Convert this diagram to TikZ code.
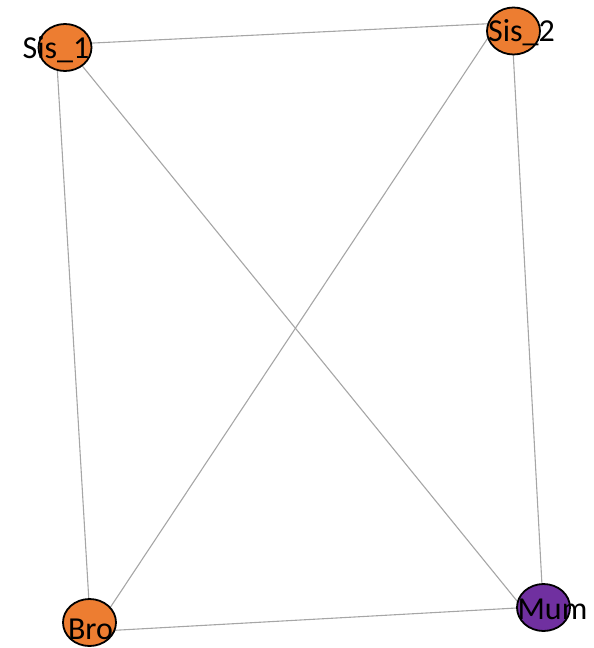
\documentclass[tikz,border=0pt]{standalone}
\usepackage{fontspec}
\setmainfont{Carlito}
\usetikzlibrary{shapes.geometric,backgrounds,calc}
\definecolor{famorange}{HTML}{ED7D31}
\definecolor{fampurple}{HTML}{7030A0}
\definecolor{edgegray}{HTML}{A6A6A6}
\begin{document}
\begin{tikzpicture}[x=1pt,y=-1pt,
  v/.style={ellipse,draw=black,line width=1.8pt,minimum width=53pt,minimum height=47pt,inner sep=0pt},
  lbl/.style={font=\fontsize{32}{32}\selectfont,text=black,inner sep=0pt},
  e/.style={draw=edgegray,line width=1.1pt}]
\useasboundingbox (0,0) rectangle (594,648);
\node[v,fill=famorange,label={[lbl,xshift=-9pt,yshift=-2pt]center:Sis\_1}] (sis1) at (65,47.5) {};
\node[v,fill=famorange,label={[lbl,xshift=8pt,yshift=-2pt]center:Sis\_2}] (sis2) at (513.5,31) {};
\node[v,fill=famorange,label={[lbl,xshift=1pt,yshift=-7pt]center:Bro}] (bro) at (89.5,622.5) {};
\node[v,fill=fampurple,label={[lbl,xshift=9pt,yshift=-2pt]center:Mum}] (mum) at (543.5,607.5) {};
\begin{scope}[on background layer]
\draw[e] ($(sis1)+(0,-3.1)$)--($(sis2)+(0,-8.5)$);
\draw[e] ($(sis1)+(-9,0)$)--($(bro)+(0.7,0)$);
\draw[e] ($(sis1)+(2.3,0)$)--($(mum)+(-21.2,0)$);
\draw[e] ($(sis2)+(-21,0)$)--($(bro)+(10.8,0)$);
\draw[e] ($(sis2)+(-1.5,0)$)--($(mum)+(-0.3,0)$);
\draw[e] ($(bro)+(0,9.2)$)--($(mum)+(0,-1)$);
\end{scope}
\end{tikzpicture}
\end{document}
